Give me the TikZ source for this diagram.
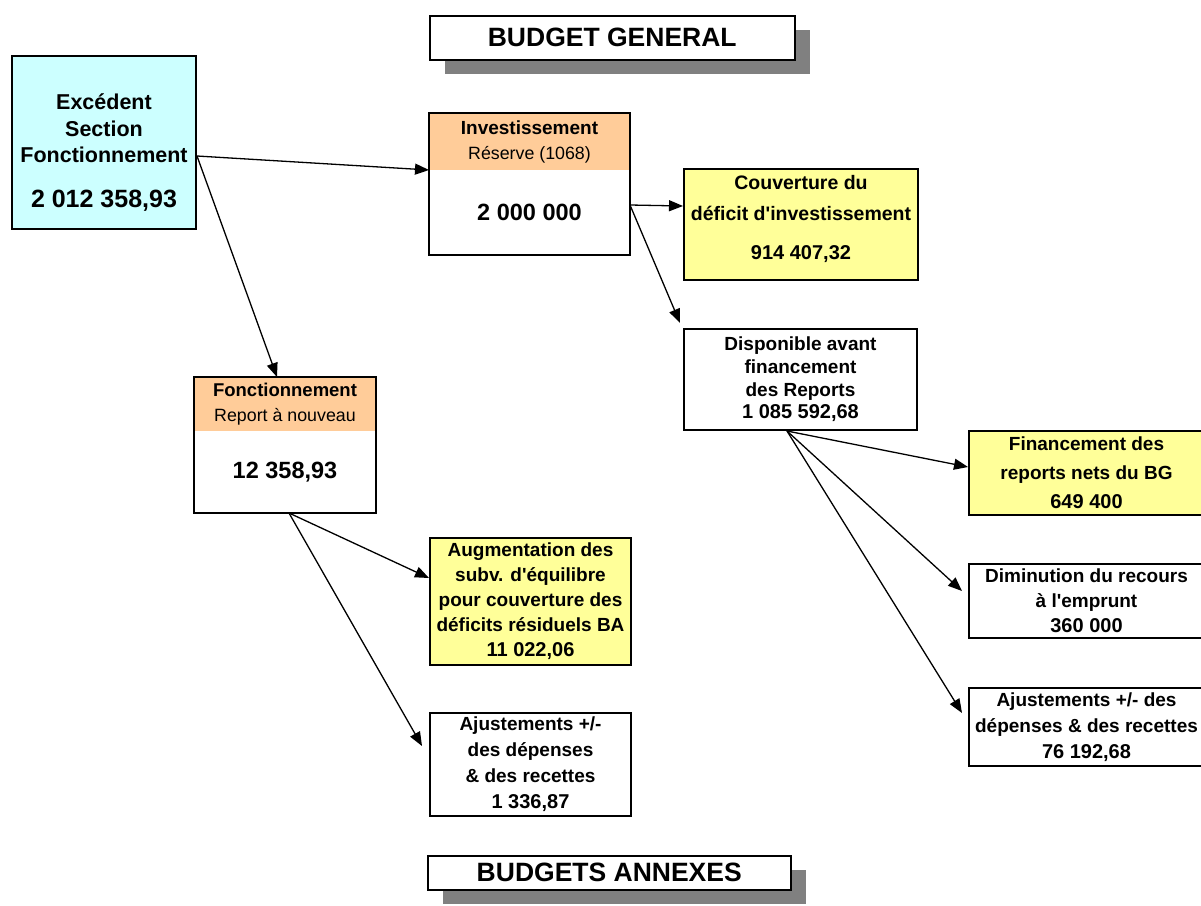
\documentclass[tikz,border=0pt]{standalone}
\usepackage{fontspec}
\setmainfont{Liberation Sans}
\usetikzlibrary{arrows.meta,positioning,shadows}

\definecolor{excfill}{HTML}{CCFFFF}
\definecolor{hdrfill}{HTML}{FFCC99}
\definecolor{resfill}{HTML}{FFFF99}
\definecolor{shadowgray}{HTML}{808080}

\newcommand\titlefont{\fontsize{26.5}{30}\selectfont\bfseries}
\newcommand\excfont{\fontsize{21.5}{26.5}\selectfont\bfseries}
\newcommand\numfont{\fontsize{23.5}{28}\selectfont\bfseries}
\newcommand\boxfont{\fontsize{19}{25}\selectfont\bfseries}
\newcommand\valfont{\fontsize{20}{25}\selectfont\bfseries}
\newcommand\subfont{\fontsize{17.8}{29}\selectfont\mdseries}
\newcommand\apos{\textquotesingle}

\tikzset{
  titlebox/.style={draw, line width=1.5pt, fill=white, font=\titlefont,
    inner sep=0pt, anchor=north west,
    drop shadow={shadow xshift=15pt, shadow yshift=-14pt,
      fill=shadowgray, opacity=1}},
  box/.style={draw, line width=2pt, inner sep=0pt, align=center,
    font=\boxfont, anchor=north west},
  hdrbox/.style={fill=hdrfill, inner sep=0pt, outer sep=0pt, align=center,
    font=\boxfont, anchor=north west},
  bodybox/.style={fill=white, inner sep=0pt, outer sep=0pt, font=\numfont},
  arr/.style={line width=1.3pt, -{Triangle[length=14pt,width=11pt]}}
}

\begin{document}
\begin{tikzpicture}[x=1pt,y=-1pt]
  \useasboundingbox (0,0) rectangle (1201,905);

  \node[titlebox, minimum width=365pt, minimum height=44pt] (bg) at (429,15) {BUDGET GENERAL};
  \node[titlebox, minimum width=363pt, minimum height=34pt] (ba) at (427,855) {BUDGETS ANNEXES};

  \node[box, fill=excfill, font=\excfont, minimum width=184pt, minimum height=173pt] (exc) at (11,55)
    {\rule{0pt}{36pt}Excédent\\ Section\\ Fonctionnement\\[18pt] {\fontsize{25}{28}\selectfont 2 012 358,93}};

  % investissement
  \node[hdrbox, minimum width=201pt, minimum height=57pt] (invh) at (429,113)
    {Investissement\\ \subfont Réserve (1068)};
  \node[bodybox, minimum width=201pt, minimum height=85pt, below=0pt of invh] (invb) {2 000 000};
  \draw[line width=2pt] (invh.north west) rectangle (invb.south east);

  % fonctionnement
  \node[hdrbox, font=\fontsize{18.5}{25}\selectfont\bfseries, minimum width=182pt, minimum height=54pt] (fonch) at (194,377)
    {Fonctionnement\\ \subfont Report à nouveau};
  \node[bodybox, minimum width=182pt, minimum height=82pt, below=0pt of fonch] (foncb) {12 358,93};
  \draw[line width=2pt] (fonch.north west) rectangle (foncb.south east);

  \node[box, fill=resfill, font=\fontsize{19.5}{25}\selectfont\bfseries, minimum width=234pt, minimum height=111pt] (cov) at (683,168)
    {Couverture du\\[6pt] déficit d\apos investissement\\[14pt] {\valfont 914 407,32}\rule[-14pt]{0pt}{1pt}};
  \node[box, minimum width=233pt, minimum height=101pt] (disp) at (683,328)
    {Disponible avant\\[-2pt] financement\\[-2pt] des Reports\\[-3pt] {\valfont 1 085 592,68}};

  \node[box, fill=resfill, minimum width=235pt, minimum height=84pt] (fin) at (968,430)
    {Financement des\\[4pt] reports nets du BG\\[4pt] {\valfont 649 400}};
  \node[box, minimum width=235pt, minimum height=74pt] (dim) at (968,563)
    {Diminution du recours\\ à l\apos emprunt\\ {\valfont 360 000}};
  \node[box, minimum width=235pt, minimum height=78pt] (ajr) at (968,687)
    {Ajustements +/- des\\[1pt] dépenses \& des recettes\\[1pt] {\valfont 76 192,68}};

  \node[box, fill=resfill, minimum width=201pt, minimum height=127pt] (aug) at (429,537)
    {Augmentation des\\ subv. d\apos équilibre\\ pour couverture des\\ déficits résiduels BA\\ {\valfont 11 022,06}};
  \node[box, minimum width=201pt, minimum height=103pt] (ajl) at (429,712)
    {Ajustements +/-\\[1pt] des dépenses\\[1pt] \& des recettes\\[1pt] {\valfont 1 336,87}};

  \draw[arr] ([yshift=-13.5pt]exc.east) -- (invh.south west);
  \draw[arr] ([yshift=-13.5pt]exc.east) -- ([xshift=-8pt]fonch.north);
  \draw[arr] ([yshift=7.5pt]invb.east) -- ([yshift=18.5pt]cov.west);
  \draw[arr] ([yshift=7.5pt]invb.east) -- ([xshift=-3pt,yshift=5pt]disp.north west);
  \draw[arr] ([xshift=4pt]foncb.south) -- ([yshift=23.5pt]aug.west);
  \draw[arr] ([xshift=4pt]foncb.south) -- ([xshift=-7pt,yshift=18.5pt]ajl.west);
  \foreach \dst/\dx/\dy in {fin/0/6, dim/-6/10, ajr/-6/14}
    \draw[arr] ([xshift=-13.5pt]disp.south) -- ([xshift=\dx pt,yshift=\dy pt]\dst.west);

\end{tikzpicture}
\end{document}
